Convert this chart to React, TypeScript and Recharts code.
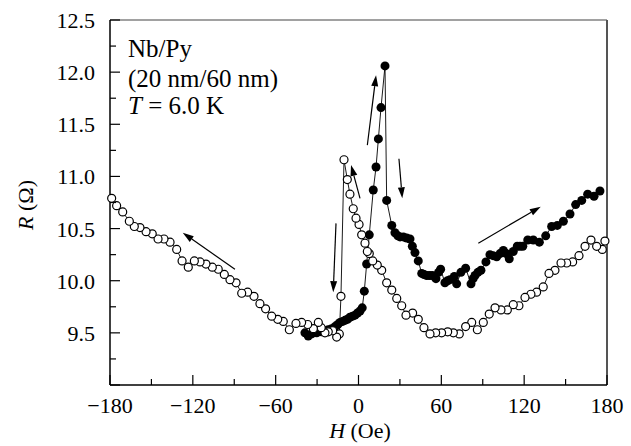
import { ScatterChart, Scatter, XAxis, YAxis, ReferenceLine } from 'recharts';

// open circles: sweep from +180 down to -180
const openH = [
  178.5, 176.6, 172.5, 168.4, 164.1, 159.7, 155.1, 150.8, 146.7, 142.3, 138.0, 133.8, 129.0, 124.9, 120.6, 116.2,
  112.1, 107.8, 103.2, 98.9, 94.7, 90.4, 86.1, 82.0, 77.6, 73.0, 68.7, 64.6, 60.2, 55.9, 51.8, 47.4, 43.3, 39.2,
  34.4, 31.3, 27.7, 24.1, 20.4, 16.8, 13.6, 10.3, 7.8, 6.4, 4.7, 2.3, 0.4, -1.8, -3.8, -6.2, -8.1, -10.5, -12.7,
  -13.9, -15.8, -18.7, -21.9, -24.3, -27.0, -29.1, -32.7, -36.8, -41.2, -45.3, -50.1, -54.5, -58.5, -62.9, -67.3,
  -71.4, -75.7, -80.3, -84.6, -88.7, -93.1, -97.2, -101.6, -105.9, -110.5, -114.8, -118.9, -123.3, -127.8, -131.7,
  -136.5, -140.9, -145.2, -149.4, -153.9, -158.3, -162.4, -166.0, -170.8, -175.2, -178.8,
];
const openR = [
  10.38, 10.3, 10.33, 10.39, 10.33, 10.24, 10.18, 10.17, 10.17, 10.1, 10.07, 9.94, 9.89, 9.87, 9.84, 9.76,
  9.77, 9.72, 9.72, 9.74, 9.68, 9.6, 9.53, 9.6, 9.56, 9.49, 9.5, 9.51, 9.5, 9.5, 9.49, 9.55, 9.63, 9.69,
  9.67, 9.76, 9.83, 9.91, 9.98, 10.1, 10.15, 10.19, 10.26, 10.28, 10.36, 10.44, 10.54, 10.6, 10.69, 10.83, 10.97, 11.16, 9.85,
  9.49, 9.46, 9.52, 9.51, 9.5, 9.55, 9.6, 9.54, 9.58, 9.6, 9.59, 9.53, 9.61, 9.63, 9.66, 9.73,
  9.78, 9.85, 9.89, 9.88, 9.98, 10.01, 10.06, 10.11, 10.13, 10.16, 10.18, 10.19, 10.13, 10.19, 10.3,
  10.37, 10.4, 10.4, 10.45, 10.47, 10.51, 10.52, 10.57, 10.66, 10.72, 10.79,
];

// filled circles: sweep upward from about -40
const filledH = [
  -38.8, -36.4, -33.9, -30.3, -26.7, -24.0, -21.9, -19.5, -17.0, -15.0, -13.4, -11.5, -9.8, -8.0, -6.2, -4.3, -2.5,
  -0.7, 1.1, 2.7, 4.2, 5.9, 7.8, 10.7, 12.7, 14.4, 16.3, 19.2, 20.4, 24.1, 26.4, 28.5, 30.1, 32.5, 34.9, 37.3, 39.0,
  40.9, 43.3, 45.8, 47.5, 49.4, 51.5, 53.5, 56.1, 58.0, 59.5, 62.6, 64.5, 66.3, 69.4, 71.1, 74.2, 77.6, 81.5, 83.0,
  84.4, 86.5, 88.7, 92.3, 95.2, 97.5, 100.1, 102.5, 104.9, 107.0, 109.2, 112.1, 115.0, 117.0, 119.0, 122.6, 126.6,
  131.0, 135.6, 139.9, 144.0, 148.4, 153.2, 157.3, 161.7, 166.0, 170.6, 174.9,
];
const filledR = [
  9.5, 9.47, 9.49, 9.5, 9.51, 9.52, 9.53, 9.54, 9.56, 9.58, 9.6, 9.61, 9.62, 9.63, 9.65, 9.66, 9.67,
  9.69, 9.71, 9.74, 9.9, 10.16, 10.44, 10.87, 11.09, 11.36, 11.66, 12.06, 10.77, 10.53, 10.46, 10.43, 10.42, 10.42, 10.41, 10.4, 10.33,
  10.27, 10.19, 10.07, 10.06, 10.05, 10.05, 10.05, 10.02, 10.08, 10.11, 9.98, 10.0, 10.01, 10.04, 9.97, 10.08, 10.12, 9.97, 10.02,
  10.05, 10.08, 10.1, 10.18, 10.25, 10.24, 10.23, 10.26, 10.29, 10.26, 10.21, 10.28, 10.33, 10.33, 10.33, 10.39, 10.39,
  10.37, 10.43, 10.52, 10.53, 10.57, 10.64, 10.73, 10.77, 10.83, 10.81, 10.86,
];

const xTicks = [-180, -150, -120, -90, -60, -30, 0, 30, 60, 90, 120, 150, 180];
const yTicks = [9, 9.25, 9.5, 9.75, 10, 10.25, 10.5, 10.75, 11, 11.25, 11.5, 11.75, 12, 12.25, 12.5];

// sweep arrows [fromH, fromR, toH, toR]
const arrows = [
  [-89.5, 10.11, -127.3, 10.46],
  [-16.3, 10.55, -18.3, 9.89],
  [1.1, 10.79, -5.4, 11.11],
  [6.4, 11.3, 12.7, 11.97],
  [29.3, 11.17, 31.7, 10.79],
  [86.8, 10.36, 132.0, 10.71],
];

const openData = openH.map((h, i) => ({ h, r: openR[i] }));
const filledData = filledH.map((h, i) => ({ h, r: filledR[i] }));

const FONT = "'Liberation Serif', 'DejaVu Serif', 'Noto Serif', 'Times New Roman', serif";
const txt = { fontFamily: FONT };

const fmtX = (v: number) => (v < 0 ? '\u2212' + Math.abs(v) : String(v));

function XTick(props: any) {
  const { x, y, payload } = props;
  const major = payload.value % 60 === 0;
  return (
    <g>
      <line x1={x} y1={y} x2={x} y2={y - (major ? 10 : 6)} stroke="#000" strokeWidth={1.2} />
      {major && (
        <text x={x} y={y + 28} textAnchor="middle" fontSize={22} style={txt} fill="#000">
          {fmtX(payload.value)}
        </text>
      )}
    </g>
  );
}

function YTick(props: any) {
  const { x, y, payload } = props;
  const v = payload.value;
  const major = Math.abs(v * 2 - Math.round(v * 2)) < 1e-6;
  return (
    <g>
      <line x1={x} y1={y} x2={x + (major ? 10 : 6)} y2={y} stroke="#000" strokeWidth={1.2} />
      {major && v > 9 && (
        <text x={x - 15} y={y + 8} textAnchor="end" fontSize={22} style={txt} fill="#000">
          {v.toFixed(1)}
        </text>
      )}
    </g>
  );
}

function Arrow(p: any) {
  const { x1, y1, x2, y2 } = p;
  const a = Math.atan2(y2 - y1, x2 - x1);
  const len = 11;
  const w = 3.5;
  const bx = x2 - len * Math.cos(a);
  const by = y2 - len * Math.sin(a);
  const nx = -Math.sin(a) * w;
  const ny = Math.cos(a) * w;
  return (
    <g>
      <line x1={x1} y1={y1} x2={bx} y2={by} stroke="#000" strokeWidth={1.2} />
      <polygon points={`${x2},${y2} ${bx + nx},${by + ny} ${bx - nx},${by - ny}`} fill="#000" />
    </g>
  );
}

const openDot = (p: any) => <circle cx={p.cx} cy={p.cy} r={4} fill="#fff" stroke="#000" strokeWidth={1.2} />;
const filledDot = (p: any) => <circle cx={p.cx} cy={p.cy} r={4.5} fill="#000" />;

export default function App() {
  return (
    <div style={{ position: 'absolute', left: 0, top: 0, width: 631, height: 446, background: '#fff' }}>
      <ScatterChart width={631} height={446} margin={{ top: 20, right: 24, bottom: 0, left: 0 }}>
        <XAxis
          type="number"
          dataKey="h"
          domain={[-180, 180]}
          ticks={xTicks}
          interval={0}
          height={61}
          tickSize={0}
          tickMargin={0}
          tick={<XTick />}
          axisLine={{ stroke: '#000', strokeWidth: 1.5 }}
        />
        <YAxis
          type="number"
          dataKey="r"
          domain={[9, 12.5]}
          ticks={yTicks}
          interval={0}
          width={110}
          tickSize={0}
          tickMargin={0}
          tick={<YTick />}
          axisLine={{ stroke: '#000', strokeWidth: 1.5 }}
        />
        <ReferenceLine y={12.5} stroke="#444" strokeWidth={1.2} />
        <ReferenceLine x={180} stroke="#555" strokeWidth={2} />
        <Scatter
          data={filledData}
          line={{ stroke: '#000', strokeWidth: 0.9 }}
          shape={filledDot}
          isAnimationActive={false}
        />
        <Scatter
          data={openData}
          line={{ stroke: '#000', strokeWidth: 0.9 }}
          shape={openDot}
          isAnimationActive={false}
        />
        {arrows.map((a, i) => (
          <ReferenceLine
            key={i}
            segment={[{ x: a[0], y: a[1] }, { x: a[2], y: a[3] }]}
            shape={Arrow}
          />
        ))}
        <text x={128} y={57} fontSize={25} style={txt} fill="#000">Nb/Py</text>
        <text x={128} y={87} fontSize={25} style={txt} fill="#000">(20 nm/60 nm)</text>
        <text x={128} y={114} fontSize={25} style={txt} fill="#000">
          <tspan fontStyle="italic">T</tspan> = 6.0 K
        </text>
        <text x={33} y={205} fontSize={22} style={txt} fill="#000" textAnchor="middle" transform="rotate(-90, 33, 205)">
          <tspan fontStyle="italic">R</tspan>{'  (\u03A9)'}
        </text>
        <text x={360} y={438} fontSize={22} style={txt} fill="#000" textAnchor="middle">
          <tspan fontStyle="italic">H</tspan>{'  (Oe)'}
        </text>
      </ScatterChart>
    </div>
  );
}
